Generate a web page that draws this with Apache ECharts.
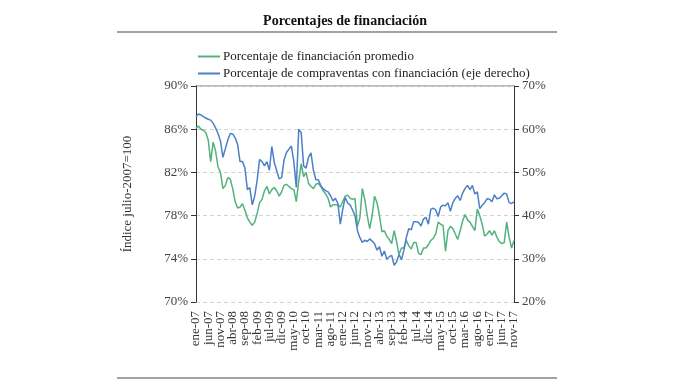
<!DOCTYPE html>
<html>
<head>
<meta charset="utf-8">
<script src="https://cdn.jsdelivr.net/npm/echarts@6/dist/echarts.min.js"></script>
<style>
html,body{margin:0;padding:0;background:#fff;}
#chart{width:690px;height:387px;}
</style>
</head>
<body>
<div id="chart"></div>
<script>
var monthNames = ['ene','feb','mar','abr','may','jun','jul','ago','sep','oct','nov','dic'];
var categories = [];
for (var y = 7; y <= 17; y++) {
  for (var m = 0; m < 12; m++) {
    if (y === 17 && m > 10) break;
    categories.push(monthNames[m] + '-' + (y < 10 ? '0' + y : '' + y));
  }
}

var seriesNames = ['Porcentaje de financiación promedio', 'Porcentaje de compraventas con financiación (eje derecho)'];

var promedio = [
  86.1,86.3,86.0,85.9,85.7,85.0,83.0,84.8,84.0,82.5,
  82.0,80.5,80.8,81.5,81.4,80.5,79.3,78.7,78.8,79.1,
  78.5,77.8,77.4,77.1,77.4,78.2,79.2,79.5,80.3,80.7,
  80.0,80.4,80.6,80.3,79.8,80.2,80.8,80.9,80.7,80.5,
  80.4,79.3,81.2,82.8,81.6,82.0,81.0,80.7,80.5,80.9,
  81.0,80.7,80.3,80.0,79.6,78.8,79.0,79.0,79.0,78.8,
  79.3,79.8,79.9,79.6,79.5,79.6,77.0,77.8,80.5,79.5,
  78.0,76.8,78.0,79.8,79.2,78.0,76.5,76.6,76.1,75.8,
  75.4,76.6,75.6,74.4,75.0,75.0,75.7,75.2,74.9,75.5,
  75.5,74.5,74.4,75.0,75.0,75.3,75.7,75.9,76.3,77.4,
  77.2,77.1,74.7,76.6,77.0,76.8,76.3,75.8,76.6,77.5,
  78.1,77.6,77.4,77.0,76.6,78.6,78.0,77.2,76.1,76.3,
  76.6,76.2,76.6,76.0,75.6,75.4,75.5,77.4,76.0,75.0,
  75.7
];

var compraventas = [
  62.9,63.5,63.3,62.9,62.6,62.3,62.1,61.4,60.3,59.0,
  57.3,53.5,55.5,57.5,59.0,58.9,58.0,56.5,52.5,52.5,
  51.0,46.0,46.5,42.5,44.5,48.2,53.0,52.5,51.5,52.5,
  50.5,56.0,52.3,50.4,48.5,48.8,52.9,54.6,55.4,56.1,
  52.5,46.5,60.0,59.2,51.5,51.0,53.5,54.5,50.5,48.3,
  48.3,47.0,46.2,45.8,45.5,44.6,43.4,44.0,42.8,38.0,
  41.5,44.2,42.9,42.5,41.3,40.0,36.5,34.9,33.8,34.3,
  34.0,34.6,34.1,33.5,32.0,32.8,30.6,31.8,29.9,30.5,
  30.8,28.5,29.3,31.0,29.8,32.0,35.0,37.0,36.7,38.6,
  38.6,38.4,37.6,39.2,39.6,38.0,41.5,41.7,41.3,39.8,
  42.0,42.4,42.3,43.0,41.0,43.0,44.0,44.6,43.5,45.2,
  46.3,47.0,46.0,47.0,45.0,45.5,41.6,42.4,43.0,43.9,
  43.8,43.2,44.8,43.9,44.0,44.6,45.2,45.0,43.0,42.8,
  43.2
];

var leftTicks = {min: 70, max: 90, interval: 4};
var rightTicks = {min: 20, max: 70, interval: 10};
var labelStep = 5;

var serif = '"Liberation Serif", "DejaVu Serif", serif';
var greenColor = '#52b27e';
var blueColor = '#4c80c6';

function xAxisDef(filterFn) {
  return {
    type: 'category',
    data: categories,
    boundaryGap: false,
    position: 'bottom',
    axisLine: {show: false},
    axisTick: {show: false},
    splitLine: {show: false},
    axisPointer: {show: false},
    axisLabel: {
      interval: filterFn,
      rotate: 90,
      margin: 9,
      fontFamily: serif,
      fontSize: 13,
      color: '#333'
    }
  };
}

var chart = echarts.init(document.getElementById('chart'));
chart.setOption({
  backgroundColor: '#fff',
  animation: false,
  title: {
    text: 'Porcentajes de financiación',
    left: 'center',
    top: 9,
    textStyle: {fontFamily: serif, fontSize: 14, fontWeight: 'bold', color: '#111'}
  },
  legend: {
    orient: 'vertical',
    left: 193,
    top: 45,
    itemWidth: 22,
    itemHeight: 2,
    itemGap: 4,
    icon: 'rect',
    data: seriesNames,
    textStyle: {fontFamily: serif, fontSize: 13, color: '#222', padding: [0, 0, 0, -2]}
  },
  graphic: [
    {type: 'line', shape: {x1: 117, y1: 32, x2: 557, y2: 32}, style: {stroke: '#7d848c', lineWidth: 1.5}},
    {type: 'line', shape: {x1: 117, y1: 378, x2: 557, y2: 378}, style: {stroke: '#7d848c', lineWidth: 1.5}},
    {type: 'line', shape: {x1: 196, y1: 86, x2: 514, y2: 86}, style: {stroke: '#777', lineWidth: 1.2}}
  ],
  grid: {left: 196, right: 176, top: 86, bottom: 85},
  xAxis: [
    xAxisDef(function (idx) { return idx % (2 * labelStep) === 0; }),
    xAxisDef(function (idx) { return idx % (2 * labelStep) === labelStep; })
  ],
  yAxis: [
    {
      type: 'value',
      min: leftTicks.min, max: leftTicks.max, interval: leftTicks.interval,
      name: 'Índice julio-2007=100',
      nameLocation: 'middle',
      nameGap: 62,
      nameTextStyle: {fontFamily: serif, fontSize: 13, color: '#333'},
      axisLine: {show: true, lineStyle: {color: '#333', width: 1}},
      axisTick: {show: true, inside: false, length: 5, lineStyle: {color: '#333'}},
      axisLabel: {formatter: '{value}%', fontFamily: serif, fontSize: 13, color: '#444', margin: 8},
      splitLine: {show: true, lineStyle: {color: '#d4d4d4', type: [4, 3], width: 1}}
    },
    {
      type: 'value',
      position: 'right',
      min: rightTicks.min, max: rightTicks.max, interval: rightTicks.interval,
      axisLine: {show: true, lineStyle: {color: '#333', width: 1}},
      axisTick: {show: true, inside: false, length: 5, lineStyle: {color: '#333'}},
      axisLabel: {formatter: '{value}%', fontFamily: serif, fontSize: 13, color: '#444', margin: 8},
      splitLine: {show: false}
    }
  ],
  series: [
    {
      name: seriesNames[0],
      type: 'line',
      xAxisIndex: 0,
      yAxisIndex: 0,
      data: promedio,
      showSymbol: false,
      symbol: 'none',
      lineStyle: {color: greenColor, width: 1.5},
      itemStyle: {color: greenColor}
    },
    {
      name: seriesNames[1],
      type: 'line',
      xAxisIndex: 0,
      yAxisIndex: 1,
      data: compraventas,
      showSymbol: false,
      symbol: 'none',
      lineStyle: {color: blueColor, width: 1.5},
      itemStyle: {color: blueColor}
    }
  ]
});
</script>
</body>
</html>
